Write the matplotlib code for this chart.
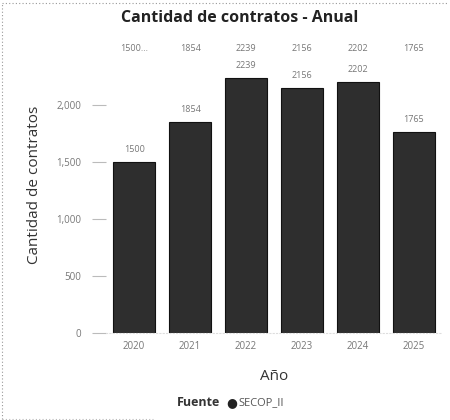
import matplotlib
matplotlib.use("Agg")
import matplotlib.pyplot as plt
from matplotlib.lines import Line2D

years = ["2020", "2021", "2022", "2023", "2024", "2025"]
values = [1500, 1854, 2239, 2156, 2202, 1765]
top_labels = ["1500...", "1854", "2239", "2156", "2202", "1765"]
yticks = [0, 500, 1000, 1500, 2000]
ytick_labels = ["0", "500", "1,000", "1,500", "2,000"]

plt.rcParams['font.family'] = ['Open Sans', 'DejaVu Sans']

fig = plt.figure(figsize=(4.5, 4.2), dpi=100)
ax = fig.add_axes([0.236, 0.207, 0.746, 0.705])

x = list(range(len(years)))
ax.bar(x, values, width=0.76, color="#2e2e2e", edgecolor="#111111", linewidth=0.8)

for xi, v in zip(x, values):
    ax.text(xi, v + 70, f"{v}", ha="center", va="bottom", fontsize=6.5, color="#777777")
for xi, t in zip(x, top_labels):
    ax.text(xi, 2500, t, ha="center", va="center", fontsize=6.5, color="#777777")

ax.set_xlim(-0.5, len(years) - 0.5)
ax.set_ylim(0, 2600)
ax.set_yticks(yticks)
ax.set_yticklabels(ytick_labels)
ax.set_xticks(x)
ax.set_xticklabels(years)
ax.tick_params(axis="y", length=10, width=0.8, color="#bbbbbb", labelsize=7, labelcolor="#777777", pad=8)
ax.tick_params(axis="x", length=0, labelsize=7, labelcolor="#777777", pad=6)
for s in ["top", "right", "left"]:
    ax.spines[s].set_visible(False)
ax.spines["bottom"].set_color("#dddddd")
ax.spines["bottom"].set_linestyle((0, (1, 2)))

ax.set_ylabel("Cantidad de contratos", fontsize=11, color="#333333", labelpad=10)
ax.set_xlabel("Año", fontsize=11, color="#333333", labelpad=12)

fig.text(0.533, 0.958, "Cantidad de contratos - Anual", ha="center", va="center",
         fontsize=11.5, fontweight="bold", color="#222222")

fig.text(0.489, 0.041, "Fuente", ha="right", va="center", fontsize=9, fontweight="bold", color="#333333")
fig.text(0.503, 0.041, "●", ha="left", va="center", fontsize=9, color="#222222", family=['DejaVu Sans'])
fig.text(0.53, 0.041, "SECOP_II", ha="left", va="center", fontsize=8, color="#555555")

dot = (0, (1, 2))
fig.add_artist(Line2D([0.005, 0.995], [0.993, 0.993], transform=fig.transFigure,
                      color="#999999", linestyle=dot, linewidth=0.8))
fig.add_artist(Line2D([0.005, 0.005], [0.003, 0.993], transform=fig.transFigure,
                      color="#999999", linestyle=dot, linewidth=0.8))
fig.add_artist(Line2D([0.005, 0.34], [0.003, 0.003], transform=fig.transFigure,
                      color="#bbbbbb", linestyle=dot, linewidth=0.8))

fig.savefig("out.png", dpi=100)
